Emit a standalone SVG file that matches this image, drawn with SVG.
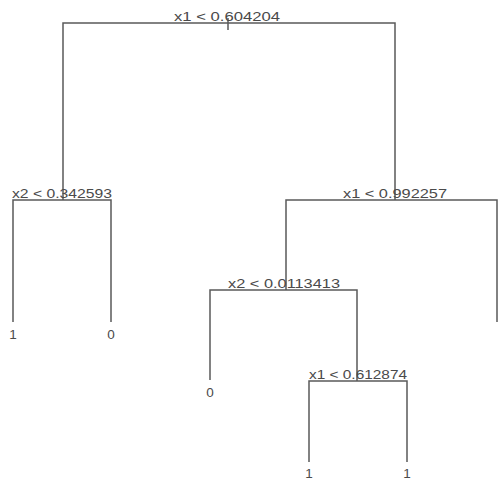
<svg xmlns="http://www.w3.org/2000/svg" width="499" height="482" viewBox="0 0 499 482">
<style>
.e{stroke:#5a5a5a;stroke-width:1.5;fill:none}
.t{font-family:"Liberation Sans",Arial,sans-serif;font-size:13.5px;fill:#4a4a4a;text-anchor:middle}
</style>
<rect width="499" height="482" fill="#fff"/>
<g id="connectors">
<line class="e" x1="228" y1="18" x2="228" y2="30"/>
<path class="e" d="M63 200V23H395V200"/>
<path class="e" d="M13 322V200H111V322"/>
<path class="e" d="M286 290V200H497V322"/>
<path class="e" d="M210 380V290H357V381"/>
<path class="e" d="M309 462V381H407V462"/>
</g>
<g id="n1"><text class="t" x="227" y="21" textLength="106" lengthAdjust="spacingAndGlyphs">x1 &lt; 0.604204</text></g>
<g id="n2"><text class="t" x="62" y="198" textLength="100" lengthAdjust="spacingAndGlyphs">x2 &lt; 0.342593</text></g>
<g id="n3"><text class="t" x="395" y="198" textLength="104" lengthAdjust="spacingAndGlyphs">x1 &lt; 0.992257</text></g>
<g id="n4"><text class="t" x="13" y="339">1</text></g>
<g id="n5"><text class="t" x="111" y="339">0</text></g>
<g id="n6"><text class="t" x="284" y="288" textLength="112" lengthAdjust="spacingAndGlyphs">x2 &lt; 0.0113413</text></g>
<g id="n7"><text class="t" x="210" y="397">0</text></g>
<g id="n8"><text class="t" x="358" y="379" textLength="98" lengthAdjust="spacingAndGlyphs">x1 &lt; 0.612874</text></g>
<g id="n9"><text class="t" x="309" y="478">1</text></g>
<g id="n10"><text class="t" x="407" y="478">1</text></g>
</svg>
